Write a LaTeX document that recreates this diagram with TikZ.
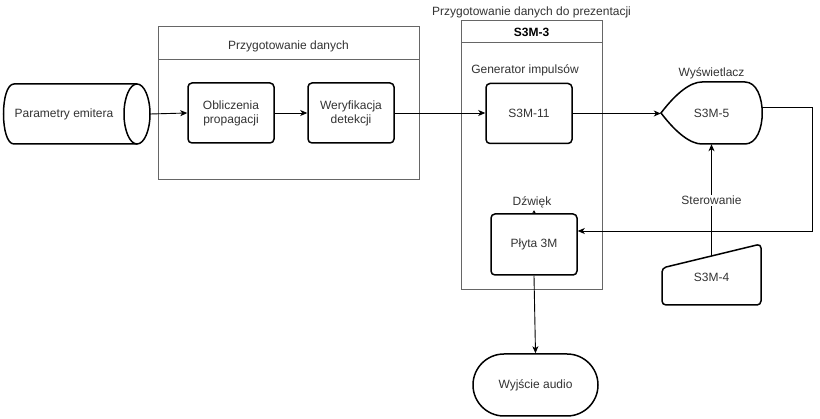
\documentclass[tikz,border=0pt]{standalone}
\usepackage{fontspec}
\setmainfont{Liberation Sans}
\usetikzlibrary{arrows.meta,calc}
\definecolor{cgray}{HTML}{666666}
\definecolor{ctext}{HTML}{333333}
\tikzset{
  base/.style={font=\fontsize{12}{14}\selectfont, text=ctext},
  procbox/.style={base, draw=black, line width=1.5pt, rounded corners=4pt, align=center, inner sep=0pt},
  cont/.style={draw=cgray, line width=1pt},
  lbl/.style={base, inner sep=1pt},
  conn/.style={line width=0.9pt, -{Stealth[length=7pt,width=6pt,inset=2pt]}},
  shp/.style={draw=black, line width=1.5pt},
}
\begin{document}
\begin{tikzpicture}[x=1pt,y=-1pt]
\useasboundingbox (0,0) rectangle (820,419);
\fill[white] (0,0) rectangle (820,419);

% containers
\draw[cont] (158,27) rectangle (419,180);
\draw[cont] (158,60) -- (419,60);
\node[lbl] (t1) at (288.5,46) {Przygotowanie danych};

\draw[cont] (461,21) rectangle (602,290);
\draw[cont] (461,43) -- (602,43);
\node[lbl, font=\fontsize{12}{14}\selectfont\bfseries, text=black] (t2) at (531.5,32) {S3M-3};
\node[lbl] (t3) at (531.5,12) {Przygotowanie danych do prezentacji};
\node[lbl] (t4) at (525,70) {Generator impulsów};

% cylinder
\draw[shp] (137,84) -- (14,84) .. controls (0,84) and (0,144) .. (14,144) -- (137,144);
\draw[shp] (137,114) ellipse [x radius=13, y radius=30];
\node[base, minimum width=148pt, minimum height=60pt, inner sep=0pt] (cyl) at (76,114) {};
\node[base] at (64,114) {Parametry emitera};

% process boxes
\node[procbox, minimum width=86pt, minimum height=60pt] (obl) at (231,113) {Obliczenia\\propagacji};
\node[procbox, minimum width=86pt, minimum height=60pt] (wer) at (351,113) {Weryfikacja\\detekcji};
\node[procbox, minimum width=86pt, minimum height=60pt] (s11) at (529,113.5) {S3M-11};
\node[procbox, minimum width=86pt, minimum height=61pt] (plyta) at (534,244.5) {Płyta 3M};
\node[lbl] (dzw) at (532,202) {Dźwięk};

% display
\draw[shp] (661,113) .. controls (677,92) and (691,82) .. (702,82) -- (745,82)
  .. controls (768,82) and (768,144) .. (745,144) -- (702,144)
  .. controls (691,144) and (677,134) .. (661,113) -- cycle;
\node[base, minimum width=101pt, minimum height=62pt, inner sep=0pt] (disp) at (711.5,113) {S3M-5};
\node[lbl] (wys) at (711.5,73) {Wyświetlacz};

% manual input
\draw[shp, rounded corners=4pt] (662,268) -- (761,244) -- (761,305) -- (662,305) -- cycle;
\node[base] (s34) at (711.5,277) {S3M-4};
\coordinate (s34top) at (711.5,256);

% terminator
\node[base, draw=black, line width=1.5pt, minimum width=125pt, minimum height=62pt, rounded corners=31pt, inner sep=0pt] (wyj) at (535.5,385) {Wyjście audio};

% connectors
\draw[conn] (cyl.east) -- (obl.west);
\draw[conn] (obl.east) -- (wer.west);
\draw[conn] (wer.east) -- (wer.east -| s11.west);
\draw[conn] (s11.east) -- (s11.east -| disp.west);
\coordinate (rc1) at (812,107);
\coordinate (rc2) at (812,231);
\draw[conn] (rc1 -| disp.east) -- (rc1) -- (rc2) -- (rc2 -| plyta.east);
\draw[conn] (s34top) -- (disp.south) node[pos=0.5, lbl, fill=white] (ster) {Sterowanie};
\draw[conn] (plyta.south) -- (wyj.north);
\draw[line width=0.6pt, -{Stealth[length=3pt,width=3.5pt]}] (plyta.north) -- ([yshift=3pt]plyta.north);
\end{tikzpicture}
\end{document}
